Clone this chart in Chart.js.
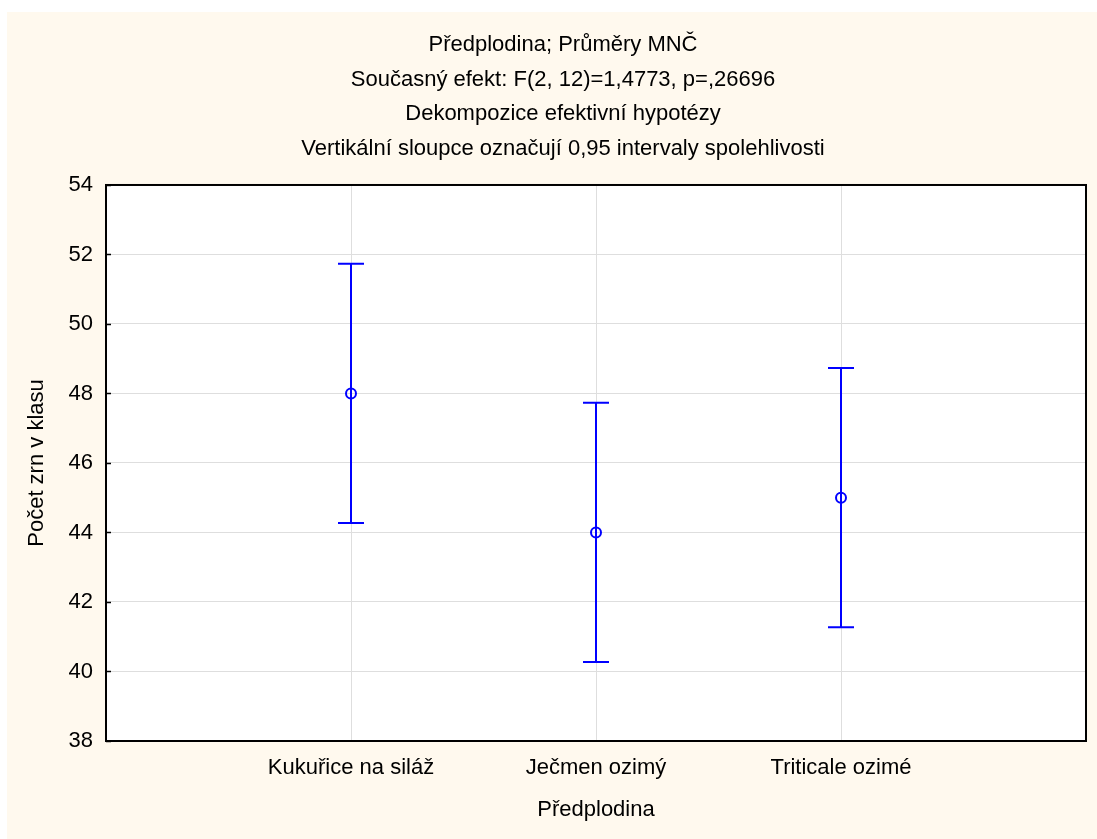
<!DOCTYPE html>
<html>
<head>
<meta charset="utf-8">
<script src="https://cdn.jsdelivr.net/npm/chart.js@4"></script>
<style>
  html, body { margin: 0; padding: 0; background: #ffffff; }
  #wrap { width: 1097px; height: 839px; }
</style>
</head>
<body>
<div id="wrap"><canvas id="myChart" width="1097" height="839"></canvas></div>
<script>
'use strict'
// data
let categories = ['Kukuřice na siláž', 'Ječmen ozimý', 'Triticale ozimé'];
let means = [48, 44, 45];
let ciLow = [44.27, 40.27, 41.27];
let ciHigh = [51.73, 47.73, 48.73];
let yTicks = [38, 40, 42, 44, 46, 48, 50, 52, 54];
let titleLines = [
    'Předplodina; Průměry MNČ',
    'Současný efekt: F(2, 12)=1,4773, p=,26696',
    'Dekompozice efektivní hypotézy',
    'Vertikální sloupce označují 0,95 intervaly spolehlivosti'
];

let blue = '#0000ff';
let fontFam = '"Liberation Sans", Arial, sans-serif';

let points = [];
for (let i = 0; i < means.length; i++) {
    points.push({ x: i + 1, y: means[i] });
}

// cream page + white plot area + black frame
let backdrop = {
    id: 'backdrop',
    beforeDraw(chart) {
        let ctx = chart.ctx;
        let a = chart.chartArea;
        ctx.save();
        ctx.fillStyle = '#fff9ee';
        ctx.fillRect(7, 12, chart.width - 7, chart.height - 12);
        ctx.fillStyle = '#ffffff';
        ctx.fillRect(a.left, a.top, a.right - a.left, a.bottom - a.top);
        ctx.restore();
    },
    afterDraw(chart) {
        let ctx = chart.ctx;
        let a = chart.chartArea;
        let ys = chart.scales.y;
        ctx.save();
        ctx.strokeStyle = '#000000';
        ctx.lineWidth = 2;
        ctx.strokeRect(a.left, a.top, a.right - a.left, a.bottom - a.top);
        // small inner tick marks on the y axis
        ctx.beginPath();
        for (let i = 0; i < yTicks.length; i++) {
            let py = Math.round(ys.getPixelForValue(yTicks[i])) + 0.5;
            ctx.moveTo(a.left, py);
            ctx.lineTo(a.left + 5, py);
        }
        ctx.lineWidth = 1.5;
        ctx.stroke();
        ctx.restore();
    }
};

// vertical confidence interval whiskers
let whiskers = {
    id: 'whiskers',
    afterDatasetsDraw(chart) {
        let ctx = chart.ctx;
        let xs = chart.scales.x;
        let ys = chart.scales.y;
        ctx.save();
        ctx.strokeStyle = blue;
        ctx.lineWidth = 2;
        for (let i = 0; i < means.length; i++) {
            let px = Math.round(xs.getPixelForValue(i + 1));
            let top = ys.getPixelForValue(ciHigh[i]);
            let bot = ys.getPixelForValue(ciLow[i]);
            ctx.beginPath();
            ctx.moveTo(px, top);
            ctx.lineTo(px, bot);
            ctx.moveTo(px - 13, top);
            ctx.lineTo(px + 13, top);
            ctx.moveTo(px - 13, bot);
            ctx.lineTo(px + 13, bot);
            ctx.stroke();
        }
        ctx.restore();
    }
};

let ctx = document.getElementById('myChart').getContext('2d');
let myChart = new Chart(ctx, {
    type: 'scatter',
    data: {
        datasets: [{
            label: 'Průměr',
            data: points,
            pointStyle: 'circle',
            pointRadius: 5,
            pointHoverRadius: 5,
            borderColor: blue,
            backgroundColor: 'rgba(0,0,0,0)',
            borderWidth: 2
        }]
    },
    options: {
        responsive: false,
        animation: false,
        layout: { padding: { left: 40, right: 11, top: 0, bottom: 0 } },
        plugins: {
            legend: { display: false },
            tooltip: { enabled: false },
            title: {
                display: true,
                text: titleLines,
                color: '#000000',
                font: { family: fontFam, size: 22, weight: 'normal', lineHeight: 1.568 },
                padding: { top: 28, bottom: 19 }
            }
        },
        scales: {
            x: {
                type: 'linear',
                min: 0,
                max: 4,
                afterBuildTicks(scale) {
                    scale.ticks = categories.map((c, i) => ({ value: i + 1 }));
                },
                afterFit(scale) { scale.height = 98; },
                ticks: {
                    color: '#000000',
                    font: { family: fontFam, size: 22 },
                    padding: 14,
                    maxRotation: 0,
                    callback: (v) => categories[v - 1]
                },
                grid: { color: '#dedede', lineWidth: 1, drawTicks: false },
                border: { display: false },
                title: {
                    display: true,
                    text: 'Předplodina',
                    color: '#000000',
                    font: { family: fontFam, size: 22 },
                    padding: { top: 0, bottom: 16 }
                }
            },
            y: {
                min: yTicks[0],
                max: yTicks[yTicks.length - 1],
                afterBuildTicks(scale) {
                    scale.ticks = yTicks.map(v => ({ value: v }));
                },
                afterFit(scale) { scale.width = 66; },
                ticks: {
                    color: '#000000',
                    font: { family: fontFam, size: 22 },
                    padding: 13
                },
                grid: { color: '#dedede', lineWidth: 1, drawTicks: false },
                border: { display: false },
                title: {
                    display: true,
                    text: 'Počet zrn v klasu',
                    color: '#000000',
                    font: { family: fontFam, size: 22 },
                    padding: { top: -16, bottom: 0 }
                }
            }
        }
    },
    plugins: [backdrop, whiskers]
});
</script>
</body>
</html>
